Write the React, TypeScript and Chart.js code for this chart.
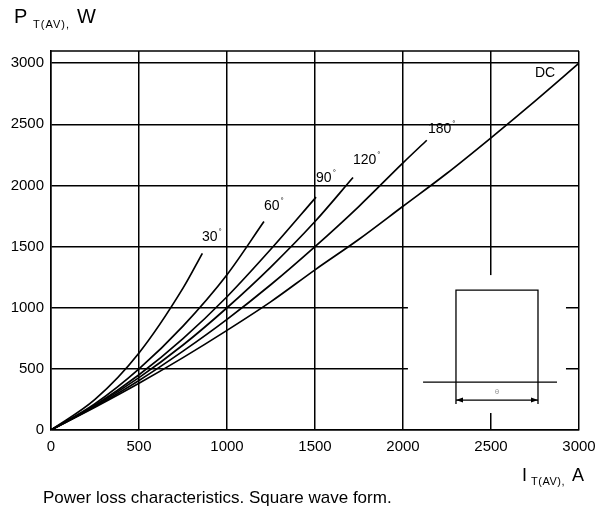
import React, { useEffect, useRef } from "react";
import { Chart, registerables } from "chart.js";

Chart.register(...registerables);

// Axis ticks
const xTicks = [0, 500, 1000, 1500, 2000, 2500, 3000];
const yTicks = [0, 500, 1000, 1500, 2000, 2500, 3000];

// Series: I_T(AV) [A] and P_T(AV) [W]
const i30 = [0, 250, 500, 750, 860];
const p30 = [0, 250, 630, 1160, 1445];

const i60 = [0, 250, 500, 750, 1000, 1210];
const p60 = [0, 215, 500, 850, 1270, 1705];

const i90 = [0, 250, 500, 750, 1000, 1250, 1506];
const p90 = [0, 203, 452, 748, 1090, 1480, 1905];

const i120 = [0, 250, 500, 750, 1000, 1250, 1500, 1716];
const p120 = [0, 198, 428, 695, 1000, 1335, 1705, 2065];

const i180 = [0, 250, 500, 750, 1000, 1250, 1500, 1750, 2000, 2135];
const p180 = [0, 192, 405, 645, 905, 1190, 1500, 1830, 2185, 2370];

const iDC = [0, 250, 500, 750, 1000, 1250, 1500, 1750, 2000, 2250, 2500, 2750, 3000];
const pDC = [0, 186, 382, 592, 815, 1050, 1310, 1560, 1830, 2100, 2390, 2690, 3000];

const seriesNames = ["30°", "60°", "90°", "120°", "180°", "DC"];
const seriesI = [i30, i60, i90, i120, i180, iDC];
const seriesP = [p30, p60, p90, p120, p180, pDC];

// Curve label anchors (data units): left edge / vertical middle
const labelMain = ["30", "60", "90", "120", "180", "DC"];
const labelDeg = [true, true, true, true, true, false];
const labelAtI = [858, 1210, 1506, 1716, 2142, 2750];
const labelAtP = [1577, 1831, 2060, 2207, 2460, 2918];

const FONT = "'Liberation Sans', Arial, sans-serif";

const overlayPlugin = {
  id: "overlay",
  afterDatasetsDraw(chart: any) {
    const ctx = chart.ctx as CanvasRenderingContext2D;
    const xs = chart.scales.x;
    const ys = chart.scales.y;
    const X = (v: number) => xs.getPixelForValue(v);
    const Y = (v: number) => ys.getPixelForValue(v);
    const area = chart.chartArea;

    ctx.save();
    // top frame
    ctx.strokeStyle = "#000";
    ctx.lineWidth = 1.5;
    ctx.beginPath();
    ctx.moveTo(area.left, area.top);
    ctx.lineTo(area.right, area.top);
    ctx.stroke();

    // inset (square-wave sketch)
    ctx.fillStyle = "#fff";
    ctx.fillRect(X(2028), Y(1267), X(2926) - X(2028), Y(139) - Y(1267));
    ctx.strokeStyle = "#000";
    ctx.lineWidth = 1.3;
    ctx.beginPath();
    ctx.moveTo(X(2114), Y(392));
    ctx.lineTo(X(2875), Y(392));
    ctx.moveTo(X(2301), Y(213));
    ctx.lineTo(X(2301), Y(1144));
    ctx.lineTo(X(2767), Y(1144));
    ctx.lineTo(X(2767), Y(213));
    ctx.moveTo(X(2301), Y(245));
    ctx.lineTo(X(2767), Y(245));
    ctx.stroke();
    const ay = Y(245);
    ctx.fillStyle = "#000";
    ctx.beginPath();
    ctx.moveTo(X(2301), ay);
    ctx.lineTo(X(2301) + 7, ay - 2.5);
    ctx.lineTo(X(2301) + 7, ay + 2.5);
    ctx.closePath();
    ctx.fill();
    ctx.beginPath();
    ctx.moveTo(X(2767), ay);
    ctx.lineTo(X(2767) - 7, ay - 2.5);
    ctx.lineTo(X(2767) - 7, ay + 2.5);
    ctx.closePath();
    ctx.fill();
    ctx.fillStyle = "#999";
    ctx.font = `8px ${FONT}`;
    ctx.textAlign = "center";
    ctx.textBaseline = "middle";
    ctx.fillText("θ", X(2534), Y(311));

    // curve labels
    ctx.fillStyle = "#000";
    ctx.textAlign = "left";
    for (let k = 0; k < labelMain.length; k++) {
      const px = X(labelAtI[k]);
      const py = Y(labelAtP[k]);
      ctx.font = `14px ${FONT}`;
      ctx.textBaseline = "middle";
      ctx.fillText(labelMain[k], px, py);
      if (labelDeg[k]) {
        const w = ctx.measureText(labelMain[k]).width;
        ctx.font = `8px ${FONT}`;
        ctx.fillText("°", px + w + 1, py - 5);
      }
    }
    ctx.restore();
  },
  afterDraw(chart: any) {
    const ctx = chart.ctx as CanvasRenderingContext2D;
    ctx.save();
    ctx.fillStyle = "#000";
    ctx.textBaseline = "alphabetic";
    ctx.textAlign = "left";
    // y-axis title: P T(AV), W
    ctx.font = `20px ${FONT}`;
    ctx.fillText("P", 14, 23);
    ctx.font = `11px ${FONT}`;
    (ctx as any).letterSpacing = "1px";
    ctx.fillText("T(AV),", 33, 28);
    (ctx as any).letterSpacing = "0px";
    ctx.font = `20px ${FONT}`;
    ctx.fillText("W", 77, 23);
    // x-axis title: I T(AV), A
    ctx.font = `18px ${FONT}`;
    ctx.fillText("I", 522, 481);
    ctx.font = `11px ${FONT}`;
    (ctx as any).letterSpacing = "0.5px";
    ctx.fillText("T(AV),", 531, 485);
    (ctx as any).letterSpacing = "0px";
    ctx.font = `18px ${FONT}`;
    ctx.fillText("A", 572, 481);
    // caption
    ctx.font = `17px ${FONT}`;
    ctx.fillText("Power loss characteristics. Square wave form.", 43, 503);
    ctx.restore();
  },
};

export default function App() {
  const ref = useRef<HTMLCanvasElement | null>(null);
  useEffect(() => {
    if (!ref.current) return;
    const datasets = seriesNames.map((name, k) => ({
      label: name,
      data: seriesI[k].map((x, j) => ({ x, y: seriesP[k][j] })),
      showLine: true,
      borderColor: "#000",
      backgroundColor: "#000",
      borderWidth: 1.7,
      pointRadius: 0,
      cubicInterpolationMode: "monotone" as const,
      fill: false,
    }));
    const chart = new Chart(ref.current, {
      type: "scatter",
      data: { datasets },
      options: {
        animation: false,
        responsive: false,
        layout: { padding: { left: 0, right: 31, top: 51, bottom: 0 } },
        plugins: { legend: { display: false }, tooltip: { enabled: false }, title: { display: false } },
        scales: {
          x: {
            type: "linear",
            min: 0,
            max: 3000,
            afterBuildTicks: (s: any) => {
              s.ticks = xTicks.map((v) => ({ value: v }));
            },
            afterFit: (s: any) => {
              s.height = 84;
            },
            ticks: {
              color: "#000",
              padding: 8,
              font: { family: FONT, size: 15 },
              maxRotation: 0,
              autoSkip: false,
              callback: (v: any) => String(v),
            },
            grid: { color: "#000", lineWidth: 1.5, drawTicks: false },
            border: { display: true, color: "#000", width: 1.5 },
          },
          y: {
            type: "linear",
            min: 0,
            max: 3100,
            afterBuildTicks: (s: any) => {
              s.ticks = yTicks.map((v) => ({ value: v }));
            },
            afterFit: (s: any) => {
              s.width = 51;
            },
            ticks: {
              color: "#000",
              padding: 7,
              font: { family: FONT, size: 15 },
              autoSkip: false,
              callback: (v: any) => String(v),
            },
            grid: { color: "#000", lineWidth: 1.5, drawTicks: false },
            border: { display: true, color: "#000", width: 1.5 },
          },
        },
      },
      plugins: [overlayPlugin],
    });
    return () => chart.destroy();
  }, []);
  return (
    <div style={{ position: "fixed", left: 0, top: 0, width: 610, height: 514, background: "#fff" }}>
      <canvas ref={ref} width={610} height={514} style={{ display: "block" }} />
    </div>
  );
}
